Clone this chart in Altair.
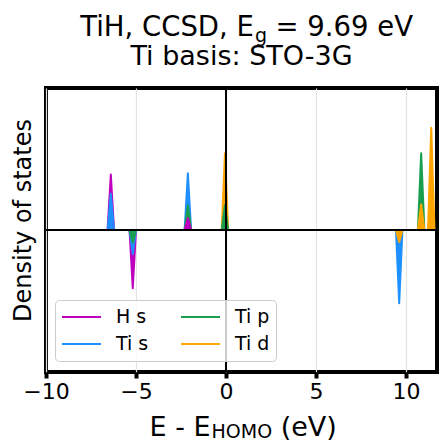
import altair as alt
import pandas as pd

# ---- data ----
peak_energy = [-6.40, -5.18, -2.12, -0.06, 9.62, 10.84, 11.40]
h_s = [0.39, -0.41, 0.085, 0.0, 0.0, 0.0, 0.0]
ti_s = [0.255, -0.17, 0.40, 0.0, -0.515, 0.0, 0.0]
ti_p = [0.0, -0.09, 0.175, 0.175, 0.0, 0.54, 0.0]
ti_d = [0.0, 0.0, 0.0, 0.54, -0.085, 0.18, 0.72]
series_names = ["H s", "Ti s", "Ti p", "Ti d"]
series_colors = ["#bf00bf", "#1e90ff", "#1a9e50", "#ffa500"]
x_ticks = [-10, -5, 0, 5, 10]
x_range = [-10, 11.72]
y_range = [-1.0, 1.0]
peak_half_width = 0.18

title_a = "TiH, CCSD, E"
title_sub = "g"
title_c = "= 9.69 eV"
title_line2 = "Ti basis: STO-3G"
xlab_a = "E - E"
xlab_sub = "HOMO"
xlab_c = "(eV)"
ylab = "Density of states"

FONT = "DejaVu Sans"

# ---- peak triangles (one group per series & peak), tallest first ----
tri = []
for name, heights in zip(series_names, [h_s, ti_s, ti_p, ti_d]):
    for k, (e, h) in enumerate(zip(peak_energy, heights)):
        if h != 0.0:
            tri.append((abs(h), name, k, e, h))
tri.sort(key=lambda t: -t[0])
rows = []
for g, (_, name, k, e, h) in enumerate(tri):
    for i, (x, y) in enumerate([(e - peak_half_width, 0.0), (e, h), (e + peak_half_width, 0.0)]):
        rows.append({"orbital": name, "grp": g, "E": x, "dos": y, "idx": i})
peaks_df = pd.DataFrame(rows)

# baseline of every series (zero density between peaks)
base_df = pd.DataFrame([{"orbital": n, "E": x, "dos": 0.0}
                        for n in series_names for x in x_range])

xscale = alt.Scale(domain=x_range, nice=False, zero=False)
yscale = alt.Scale(domain=y_range, nice=False)
cscale = alt.Scale(domain=series_names, range=series_colors)

x_axis = alt.Axis(values=x_ticks, title=None, domain=False, tickColor="black",
                  tickWidth=4, tickSize=6, labelFontSize=22, labelFont=FONT,
                  labelColor="black", labelPadding=3, labelFlush=False,
                  labelOverlap=False, grid=True, gridColor="#e3e3e3",
                  gridWidth=1.2, format="d")
y_axis = alt.Axis(labels=False, ticks=False, domain=False, grid=False,
                  title=ylab, titleFontSize=24, titleFont=FONT,
                  titleFontWeight="normal", titleColor="black",
                  titleX=-23, titleY=132, titleAngle=270,
                  titleBaseline="middle", titleAlign="center")

baseline = alt.Chart(base_df).mark_line(strokeWidth=2, clip=True).encode(
    x=alt.X("E:Q", scale=xscale, axis=x_axis),
    y=alt.Y("dos:Q", scale=yscale, axis=y_axis),
    color=alt.Color("orbital:N", scale=cscale,
                    legend=alt.Legend(title=None, orient="none", legendX=9, legendY=212,
                                      columns=2, symbolType="stroke", symbolSize=1521,
                                      symbolStrokeWidth=2, labelFontSize=19, labelFont=FONT,
                                      labelColor="black", labelOffset=14, columnPadding=31,
                                      rowPadding=5, clipHeight=22, padding=6,
                                      strokeColor="#cccccc",
                                      fillColor="rgba(255,255,255,0.8)",
                                      cornerRadius=4)),
)

peak_fill = alt.Chart(peaks_df).mark_area(orient="vertical", clip=True, opacity=1).encode(
    x=alt.X("E:Q", scale=xscale),
    y=alt.Y("dos:Q", scale=yscale, stack=None),
    color=alt.Color("orbital:N", scale=cscale, legend=None),
    detail="grp:N",
)

peak_line = alt.Chart(peaks_df).mark_line(strokeWidth=2, strokeJoin="round",
                                          clip=True).encode(
    x=alt.X("E:Q", scale=xscale),
    y=alt.Y("dos:Q", scale=yscale),
    color=alt.Color("orbital:N", scale=cscale, legend=None),
    detail="grp:N",
    order="idx:Q",
)

zero_df = pd.DataFrame({"v": [0.0]})
hline = alt.Chart(zero_df).mark_rule(color="black", strokeWidth=2).encode(y=alt.datum(0))
vline = alt.Chart(zero_df).mark_rule(color="black", strokeWidth=2).encode(x=alt.datum(0))

one = pd.DataFrame({"k": [0]})


def txt(s, x, y, size, align):
    return alt.Chart(one).mark_text(text=s, font=FONT, fontSize=size, align=align,
                                    baseline="alphabetic", color="black").encode(
        x=alt.value(x), y=alt.value(y))


texts = [
    txt(title_a, 207.9, -52, 27.5, "right"),
    txt(title_sub, 209.0, -46.5, 19, "left"),
    txt(title_c, 229.5, -52, 27.5, "left"),
    txt(title_line2, 195.5, -23.5, 27, "center"),
    txt(xlab_a, 103.5, 347.5, 27, "left"),
    txt(xlab_sub, 165.5, 349.5, 19, "left"),
    txt(xlab_c, 234.7, 347.5, 27, "left"),
]

chart = alt.layer(baseline, peak_fill, peak_line, hline, vline, *texts).properties(
    width=391, height=284,
    autosize=alt.AutoSizeParams(type="none"),
    padding={"left": 46, "top": 88, "right": 6, "bottom": 70},
    background="white",
).configure_view(stroke="black", strokeWidth=4)

chart.save("out.html", embed_options={"renderer": "svg", "actions": False})
